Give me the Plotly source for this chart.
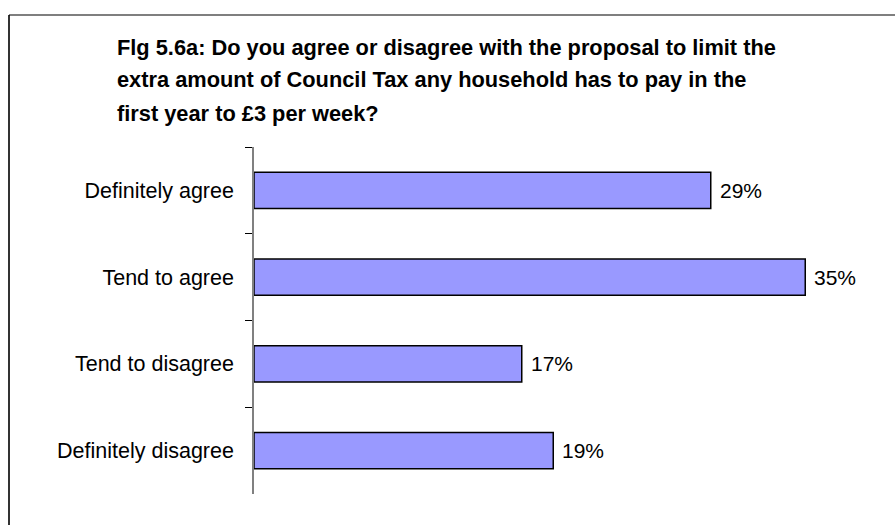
import plotly.graph_objects as go

# Survey responses (percent of respondents)
categories = ["Definitely agree", "Tend to agree", "Tend to disagree", "Definitely disagree"]
values = [29, 35, 17, 19]
value_labels = ["29%", "35%", "17%", "19%"]
title_lines = [
    "Flg 5.6a: Do you agree or disagree with the proposal to limit the",
    "extra amount of Council Tax any household has to pay in the",
    "first year to £3 per week?",
]

W, H = 895, 525
L, R, T, B = 254, 11, 147, 31
PW, PH = W - L - R, H - T - B
XMAX = 40


def px_x(x):
    return (x - L) / PW


def px_y(y):
    return (H - B - y) / PH


FONT = "Liberation Sans, Arial, sans-serif"

fig = go.Figure(
    go.Bar(
        x=values,
        y=categories,
        orientation="h",
        marker=dict(color="#9999FF", line=dict(color="black", width=1.5)),
        hoverinfo="skip",
    )
)

# Value labels beside each bar
for cat, val, lab in zip(categories, values, value_labels):
    fig.add_annotation(
        x=val, y=cat, text=lab, showarrow=False,
        xanchor="left", xshift=7,
        font=dict(family=FONT, size=21, color="black"),
    )

# Title, one line per annotation for wider line spacing
for i, line in enumerate(title_lines):
    fig.add_annotation(
        x=px_x(115), y=px_y(47 + i * 33), xref="paper", yref="paper",
        text=f"<b>{line}</b>", showarrow=False,
        xanchor="left", yanchor="middle",
        font=dict(family=FONT, size=21.8, color="black"),
    )

# Frame around the chart area
fig.add_shape(type="line", xref="paper", yref="paper",
              x0=px_x(9), y0=px_y(15), x1=px_x(9), y1=px_y(560),
              line=dict(color="#333333", width=2))
fig.add_shape(type="line", xref="paper", yref="paper",
              x0=px_x(9), y0=px_y(15), x1=px_x(930), y1=px_y(15),
              line=dict(color="black", width=1.2))

fig.update_layout(
    width=W, height=H,
    margin=dict(l=L, r=R, t=T, b=B),
    paper_bgcolor="white", plot_bgcolor="white",
    bargap=0.58,
    showlegend=False,
    font=dict(family=FONT, size=21, color="black"),
    xaxis=dict(range=[0, XMAX], visible=False, fixedrange=True),
    yaxis=dict(
        autorange="reversed",
        showline=True, linecolor="#808080", linewidth=1.5,
        ticks="outside", ticklen=7, tickcolor="black", tickwidth=1,
        tickson="boundaries",
        ticklabelstandoff=14,
        tickfont=dict(family=FONT, size=21.5, color="black"),
        showgrid=False, zeroline=False, fixedrange=True,
    ),
)

fig.write_html("out.html")
